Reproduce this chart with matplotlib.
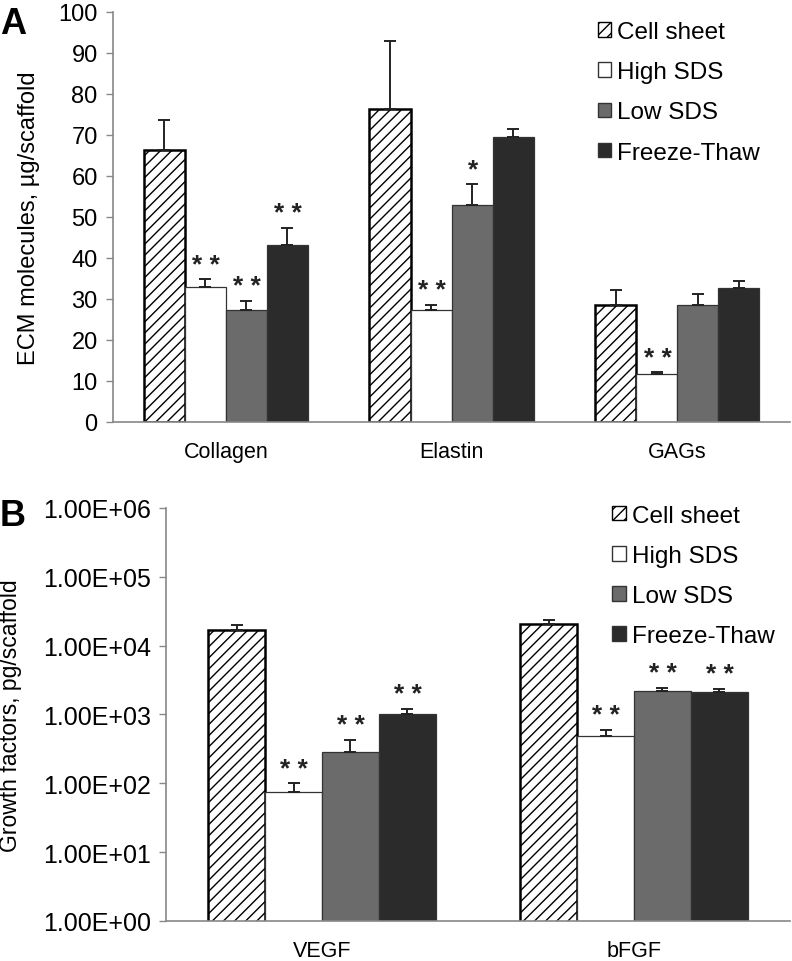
import numpy as np
import matplotlib.pyplot as plt
from matplotlib.ticker import FixedLocator

plt.rcParams['font.family'] = ['Liberation Sans', 'DejaVu Sans']
plt.rcParams['hatch.linewidth'] = 1.0

series = ['Cell sheet', 'High SDS', 'Low SDS', 'Freeze-Thaw']
colors = ['white', 'white', '#6b6b6b', '#2b2b2b']
hatches = ['///', None, None, None]

# panel A
ecm_cats = ['Collagen', 'Elastin', 'GAGs']
ecm_vals = [[66.3, 76.4, 28.5],
            [33.0, 27.2, 11.7],
            [27.2, 52.9, 28.5],
            [43.2, 69.4, 32.7]]
ecm_err = [[7.3, 16.6, 3.7],
           [1.8, 1.3, 0.4],
           [2.3, 5.2, 2.7],
           [4.2, 2.0, 1.6]]
ecm_stars = [['', '', ''],
             ['**', '**', '**'],
             ['**', '*', ''],
             ['**', '', '']]

# panel B
gf_cats = ['VEGF', 'bFGF']
gf_vals = [[16700, 20400],
           [75, 480],
           [281, 2230],
           [1030, 2130]]
gf_err = [[3100, 3000],
          [25, 118],
          [147, 200],
          [190, 200]]
gf_stars = [['', ''],
            ['**', '**'],
            ['**', '**'],
            ['**', '**']]


def draw(ax, cats, vals, errs, stars, leg_anchor):
    x = np.arange(len(cats))
    w = 0.182
    for i in range(len(series)):
        pos = x + (i - 1.5) * w
        if i == 0:
            ec, lw = 'black', 1.8
        else:
            ec, lw = '#333333', 0.9
        ax.bar(pos, vals[i], w, color=colors[i], edgecolor=ec, linewidth=lw,
               hatch=hatches[i], label=series[i], zorder=2)
        ax.errorbar(pos, vals[i], yerr=[np.zeros(len(cats)), errs[i]], fmt='none',
                    ecolor='#222222', elinewidth=1.4, capsize=4.5, capthick=1.4, zorder=3)
        for j in range(len(cats)):
            if stars[i][j]:
                # spaced asterisks like the original
                ax.annotate(' '.join(stars[i][j]), (pos[j], vals[i][j] + errs[i][j]),
                            xytext=(0.5, 2), textcoords='offset points',
                            ha='center', va='bottom', fontsize=19,
                            fontweight='bold', color='#222222')
    ax.set_xticks(x)
    ax.set_xticklabels(cats, fontsize=15.5)
    ax.set_xlim(-0.5, len(cats) - 0.5)
    ax.tick_params(axis='x', length=0, pad=14)
    ax.tick_params(axis='y', length=5, width=1, color='#888888', direction='out')
    for s in ['top', 'right']:
        ax.spines[s].set_visible(False)
    for s in ['left', 'bottom']:
        ax.spines[s].set_color('#888888')
        ax.spines[s].set_linewidth(1.2)
    leg = ax.legend(loc='upper left', bbox_to_anchor=leg_anchor, frameon=False,
                    fontsize=17.5, handlelength=0.55, handleheight=0.55,
                    handletextpad=0.25, labelspacing=0.75, borderaxespad=0,
                    borderpad=0)
    for h in leg.legend_handles:
        h.set_linewidth(1.0)


fig = plt.figure(figsize=(7.92, 9.62), dpi=100)

axA = fig.add_axes([0.1427, 0.5603, 0.855, 0.4262])
draw(axA, ecm_cats, ecm_vals, ecm_err, ecm_stars, (0.716, 0.978))
axA.set_ylim(0, 100)
axA.set_yticks(np.arange(0, 101, 10))
axA.tick_params(axis='y', labelsize=17, pad=6)
axA.set_ylabel('ECM molecules, µg/scaffold', fontsize=17)
axA.yaxis.set_label_coords(-0.108, 0.5)
fig.text(0.0, 0.993, 'A', fontsize=26, fontweight='bold', va='top')

axB = fig.add_axes([0.2096, 0.0416, 0.788, 0.4293])
draw(axB, gf_cats, gf_vals, gf_err, gf_stars, (0.715, 1.008))
axB.set_yscale('log')
axB.set_ylim(1, 1e6)
ticks = [10.0 ** k for k in range(7)]
axB.yaxis.set_major_locator(FixedLocator(ticks))
axB.yaxis.set_minor_locator(FixedLocator([]))
axB.set_yticklabels(['%.2E' % t for t in ticks])
axB.tick_params(axis='y', labelsize=18, pad=6)
axB.set_ylabel('Growth factors, pg/scaffold', fontsize=16.5)
axB.yaxis.set_label_coords(-0.231, 0.5)
fig.text(0.0, 0.481, 'B', fontsize=26, fontweight='bold', va='top')

fig.savefig('out.png', dpi=100)
